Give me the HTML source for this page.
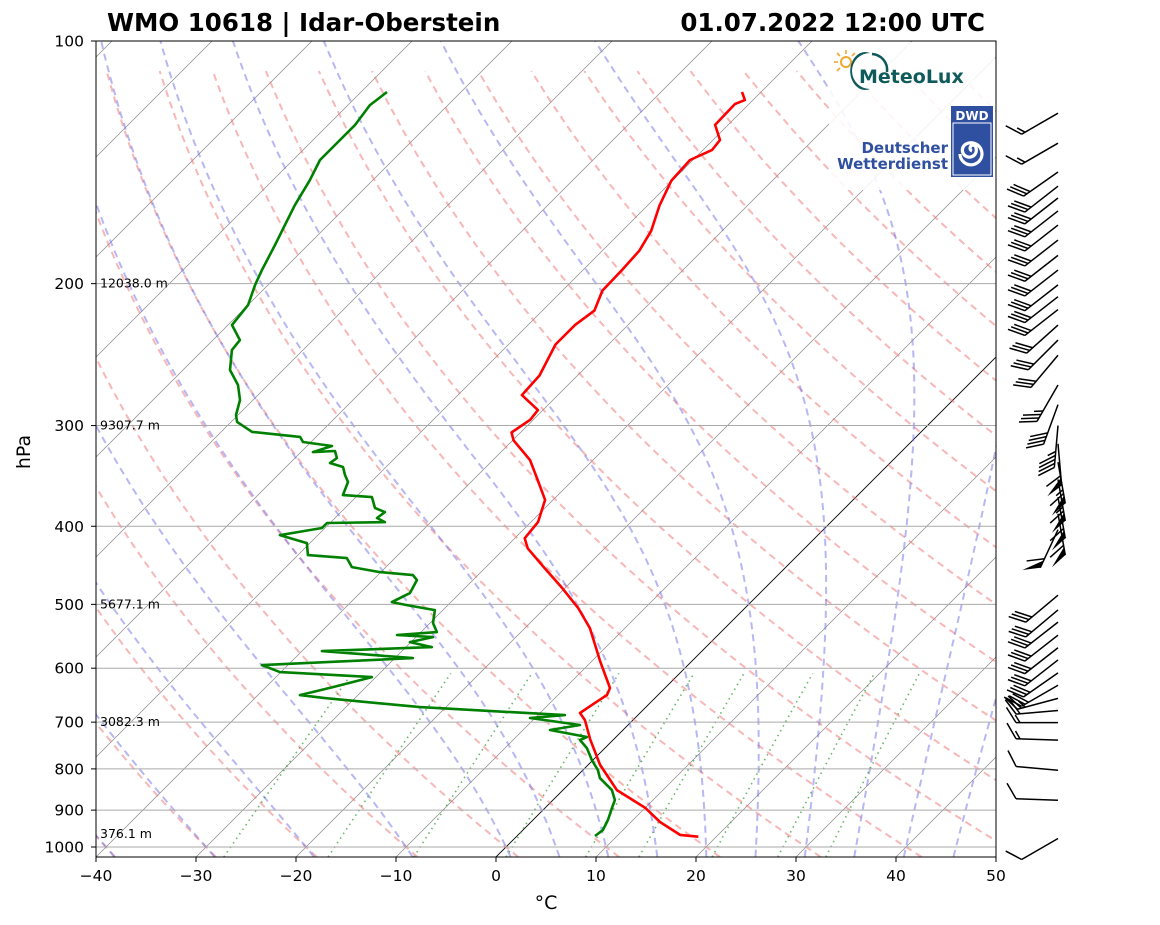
<!DOCTYPE html>
<html><head><meta charset="utf-8"><style>
body{margin:0;background:#fff;}
svg{display:block;font-family:"DejaVu Sans","Liberation Sans",sans-serif;}
</style></head><body>
<svg id="chart" width="1160" height="925" viewBox="0 0 1160 925" xmlns="http://www.w3.org/2000/svg">
<defs><clipPath id="plotclip"><rect x="96" y="41" width="900" height="816"/></clipPath></defs>
<rect x="0" y="0" width="1160" height="925" fill="#fff"/>
<g id="bg" clip-path="url(#plotclip)"></g>
<g id="profiles" clip-path="url(#plotclip)"></g>
<g id="logos">
  <rect x="829" y="42" width="166" height="148" fill="#fff" opacity="0.88"/>
  <g>
    <circle cx="846" cy="62" r="5" fill="none" stroke="#f0a830" stroke-width="2"/>
    <g stroke="#f0a830" stroke-width="1.6">
      <line x1="846" y1="50" x2="846" y2="54"/><line x1="834" y1="62" x2="838" y2="62"/>
      <line x1="837" y1="53" x2="840" y2="56"/><line x1="855" y1="53" x2="852" y2="56"/>
      <line x1="837" y1="71" x2="840" y2="68"/>
    </g>
    <path d="M870 53 A18 18 0 1 0 870 89 A15 19 0 1 1 870 53Z" fill="#0f5a5a"/>
    <path d="M872 54 A16 16 0 0 1 887 72" fill="none" stroke="#0f5a5a" stroke-width="2.5"/>
    <text x="859" y="83" font-size="19" font-weight="bold" fill="#0f5a5a">MeteoLux</text>
  </g>
  <g>
    <rect x="951" y="106" width="42" height="71" fill="#2f4fa0"/>
    <text x="972" y="120" font-size="12" font-weight="bold" fill="#fff" text-anchor="middle">DWD</text>
    <rect x="953" y="123" width="38" height="52" fill="none" stroke="#fff" stroke-width="1"/>
    <path d="M972 151 a3 3 0 1 1 4 -3 a7 7 0 1 1 -10 -4 a11 11 0 1 1 -6 10" fill="none" stroke="#fff" stroke-width="3.2"/>
    <text x="948" y="153" font-size="15" font-weight="bold" fill="#2f4fa0" text-anchor="end">Deutscher</text>
    <text x="948" y="169" font-size="15" font-weight="bold" fill="#2f4fa0" text-anchor="end">Wetterdienst</text>
  </g>
</g>
<g id="axes"></g>
<g id="barbs"></g>
<text x="107" y="31" font-size="24.5" font-weight="bold" fill="#000">WMO 10618 | Idar-Oberstein</text>
<text x="985" y="31" font-size="24.5" font-weight="bold" fill="#000" text-anchor="end">01.07.2022 12:00 UTC</text>
<text x="546" y="909" font-size="19" text-anchor="middle" fill="#000">°C</text>
<text x="30" y="452" font-size="19" text-anchor="middle" fill="#000" transform="rotate(-90 30 452)">hPa</text>
</svg>
<script>
// ---- data ----
const tempP = [971,966,931,894,850,791,736,696,682,666,648,635,589,535,505,477,451,426,414,395,371,350,331,313,306,295,287,275,260,238,225,216,204,192,182,172,160,149,140.5,136.5,132.7,127.1,119.7,118.4,115.7];
const tempT = [18.2,16.2,12.9,10.0,5.4,1.2,-2.3,-4.8,-6.0,-5.6,-5.1,-5.5,-9.1,-13.5,-16.7,-20.3,-24.0,-27.7,-29.0,-29.3,-30.8,-33.6,-36.3,-39.9,-40.9,-40.3,-40.5,-43.6,-43.8,-45.3,-45.3,-44.8,-46.0,-46.1,-46.3,-47.1,-48.8,-50.1,-50.3,-49.1,-49.3,-51.3,-51.4,-50.8,-51.9];
const dewP = [969.2,952.9,926.0,894.8,874.6,850.0,821.3,802.7,780.1,753.8,736.7,730.4,715.9,705.7,691.8,686.0,670.5,653.5,647.9,633.3,615.5,606.7,594.7,582.9,571.4,564.9,556.9,549.0,545.8,541.2,527.4,508.2,501.0,496.7,484.2,466.5,459.9,456.0,449.5,438.1,434.4,419.7,410.2,402.0,396.3,395.3,390.7,384.1,379.7,368.0,365.9,352.5,345.5,337.7,333.9,329.2,322.6,323.6,318.0,314.4,309.9,305.5,296.9,291.1,278.9,267.2,256.0,241.8,235.0,225.1,212.5,200.7,192.4,179.1,169.2,159.8,148.8,140.5,132.7,127.1,120.1,115.7];
const dewT = [7.8,8.0,7.5,6.7,6.2,4.9,2.5,1.5,-0.1,-1.8,-3.3,-2.9,-7.3,-4.8,-10.5,-7.3,-22.6,-33.0,-35.8,-33.3,-30.4,-40.1,-42.6,-28.2,-38.0,-27.4,-30.1,-28.3,-32.1,-28.4,-29.7,-30.8,-34.1,-35.9,-35.0,-35.6,-36.5,-40.1,-43.4,-44.8,-49.0,-50.3,-53.8,-50.3,-50.3,-44.6,-45.8,-45.6,-47.0,-48.4,-51.5,-52.3,-53.3,-54.3,-56.0,-55.8,-56.7,-58.8,-57.5,-60.8,-61.6,-66.9,-69.4,-70.2,-71.3,-73.0,-75.3,-77.1,-77.3,-79.6,-80.0,-81.3,-82.1,-83.3,-84.3,-85.3,-86.3,-87.3,-87.3,-87.3,-87.8,-87.4];
const barbP = [122.9,133.9,145.4,151.4,156.6,162.5,169.2,176.6,184.5,192.4,200.7,207.6,215.4,225.1,235.0,245.4,267.2,282.6,300,316,333,350,368,386,404,487,508,526,546,566,586,608,630,654,677,701,737,803,875,976];
const barbDir = [240,240,235,232,232,232,232,232,232,232,232,232,232,228,225,220,210,200,185,175,170,170,170,170,205,230,230,232,232,232,232,235,240,255,265,270,272,275,272,240];
const barbSpd = [15,15,30,30,30,30,30,30,30,30,30,30,30,30,30,30,35,40,45,60,65,65,60,60,60,30,30,30,30,30,30,30,30,25,20,15,15,10,10,10];
const pTicks = [100,200,300,400,500,600,700,800,900,1000];
const tTicks = [-40,-30,-20,-10,0,10,20,30,40,50];
const heightP = [200,300,500,700,963];
const heightLabels = ["12038.0 m","9307.7 m","5677.1 m","3082.3 m","376.1 m"];
const mixRatios = [0.0004,0.001,0.002,0.004,0.007,0.01,0.016,0.024,0.032];

// ---- axes ----
const PBOT=1000*Math.pow(10,816/806-1);
function yP(p){return 41+806*Math.log10(p/100);}
function xT(T,p){return 496+10*T+(857-yP(p));}
const NS="http://www.w3.org/2000/svg";
function mk(tag,attrs,parent){const e=document.createElementNS(NS,tag);for(const k in attrs)e.setAttribute(k,attrs[k]);parent.appendChild(e);return e;}
const bg=document.getElementById('bg'), prof=document.getElementById('profiles'), ax=document.getElementById('axes'), bb=document.getElementById('barbs');
function pathFrom(pts){return 'M'+pts.map(q=>q[0].toFixed(1)+' '+q[1].toFixed(1)).join('L');}

for(let T=-140;T<=50;T+=10){
  const l=mk('line',{x1:xT(T,PBOT),y1:857,x2:xT(T,PBOT)+816,y2:41,stroke:T===0?'#000':'#888',"stroke-width":T===0?0.9:0.7},bg);
  
  
}
for(let t0=-40;t0<=200;t0+=10){
  const pts=[];for(let p=PBOT;p>=100;p-=10){const T=(t0+273.15)*Math.pow(p/1000,0.2857)-273.15;pts.push([xT(T,p),yP(p)]);}
  const e=mk('path',{d:pathFrom(pts),fill:'none',stroke:'#f07070',"stroke-opacity":0.5,"stroke-width":2,"stroke-dasharray":"7,5"},bg);
  
  
}
function es(Tc){return 6.112*Math.exp(17.67*Tc/(Tc+243.5));}
function dTdp(T,p){const Tc=T-273.15;const e=es(Tc);const rs=0.622*e/(p-e);return (287.04*T+2.501e6*rs)/(p*(1005.7+2.501e6*2.501e6*rs*0.622/(287.04*T*T)));}
const moistT0=[-40,-30,-20,-10,0,5,10,15,20,25,30,35,40,45,50];
for(const t0 of moistT0){
  let pts=[];let T=t0+273.15;
  for(let p=1000;p<PBOT;p+=2){pts.unshift([xT(T-273.15,p),yP(p)]);T+=dTdp(T,p)*2;}
  T=t0+273.15;
  for(let p=1000;p>=100;p-=2){pts.push([xT(T-273.15,p),yP(p)]);T-=dTdp(T,p)*2;}
  const e=mk('path',{d:pathFrom(pts),fill:'none',stroke:'#7070ea',"stroke-opacity":0.5,"stroke-width":2,"stroke-dasharray":"7,5"},bg);
  
  
}
for(const w of mixRatios){
  const pts=[];for(let p=PBOT;p>=600;p-=10){const e=p*w/(0.622+w);const ln=Math.log(e/6.112);const Td=243.5*ln/(17.67-ln);pts.push([xT(Td,p),yP(p)]);}
  const e=mk('path',{d:pathFrom(pts),fill:'none',stroke:'#2a9a2a',"stroke-opacity":0.7,"stroke-width":1.6,"stroke-dasharray":"1.5,4"},bg);
  
  
}
for(const p of pTicks){
  const g=mk('line',{x1:96,x2:996,y1:yP(p),y2:yP(p),stroke:'#aaa',"stroke-width":1},bg);
  
  
}
const tp=mk('path',{d:pathFrom(tempP.map((p,i)=>[xT(tempT[i],p),yP(p)])),fill:'none',stroke:'#f00',"stroke-width":2.6,"stroke-linejoin":"round"},prof);


const dp=mk('path',{d:pathFrom(dewP.map((p,i)=>[xT(dewT[i],p),yP(p)])),fill:'none',stroke:'#008000',"stroke-width":2.6,"stroke-linejoin":"round"},prof);


heightP.forEach((p,i)=>{
  const t=mk('text',{x:100,y:yP(p)+4,"font-size":12.5,fill:'#000'},prof);t.textContent=heightLabels[i];
  
  
});
const fr=mk('rect',{x:96,y:41,width:900,height:816,fill:'none',stroke:'#000',"stroke-width":1},ax);


for(const p of pTicks){
  const y=yP(p);
  mk('line',{x1:91,x2:96,y1:y,y2:y,stroke:'#000'},ax);
  const t=mk('text',{x:84,y:y+5.5,"font-size":15.5,"text-anchor":"end",fill:'#000'},ax);t.textContent=p;
  
  
}
for(const T of tTicks){
  const x=496+10*T;
  mk('line',{x1:x,x2:x,y1:857,y2:862,stroke:'#000'},ax);
  const t=mk('text',{x:x,y:881,"font-size":15.5,"text-anchor":"middle",fill:'#000'},ax);t.textContent=(T<0?'\u2212'+(-T):T);
  
  
}
function rot(v,a){const c=Math.cos(a),s=Math.sin(a);return [v[0]*c-v[1]*s,v[0]*s+v[1]*c];}
barbP.forEach((p,i)=>{
  const g=mk('g',{},bb);
  
  
  const d=barbDir[i]*Math.PI/180;const u=[Math.sin(d),-Math.cos(d)];
  const L=42, bx=1058, by=yP(p);
  const ex=bx+u[0]*L, ey=by+u[1]*L;
  mk('line',{x1:bx,y1:by,x2:ex,y2:ey,stroke:'#000',"stroke-width":1.5},g);
  const f=rot(u,58*Math.PI/180);
  let spd=Math.round(barbSpd[i]/5)*5;let pos=0;
  const nF=Math.floor(spd/50);spd-=nF*50;const nB=Math.floor(spd/10);spd-=nB*10;const half=spd>=5;
  for(let k=0;k<nF;k++){
    const sx=ex-u[0]*pos, sy=ey-u[1]*pos;
    const s2x=sx-u[0]*8, s2y=sy-u[1]*8;
    mk('polygon',{points:`${sx},${sy} ${sx+f[0]*18},${sy+f[1]*18} ${s2x},${s2y}`,fill:'#000'},g);
    pos+=10;
  }
  for(let k=0;k<nB;k++){
    const sx=ex-u[0]*pos, sy=ey-u[1]*pos;
    mk('line',{x1:sx,y1:sy,x2:sx+f[0]*18,y2:sy+f[1]*18,stroke:'#000',"stroke-width":1.5},g);
    pos+=4;
  }
  if(half){
    if(pos===0)pos=4;
    const sx=ex-u[0]*pos, sy=ey-u[1]*pos;
    mk('line',{x1:sx,y1:sy,x2:sx+f[0]*9,y2:sy+f[1]*9,stroke:'#000',"stroke-width":1.5},g);
  }
});
</script>
</body></html>
